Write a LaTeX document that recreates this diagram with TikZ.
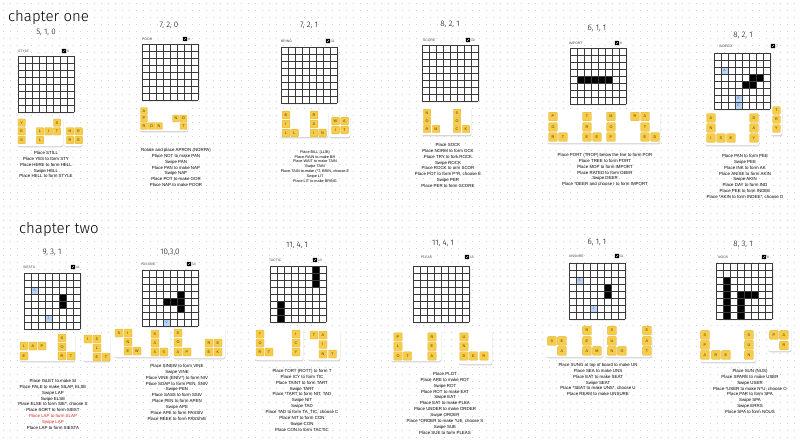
\documentclass[tikz,border=0pt]{standalone}
\usepackage{fontspec}
\setmainfont{Liberation Sans}
\newfontfamily\titlefont{Fira Sans Light}
\definecolor{tilec}{HTML}{F6CC4A}
\definecolor{tileb}{HTML}{E2B432}
\definecolor{tiletx}{HTML}{4A3A00}
\definecolor{dotc}{HTML}{D2D2D2}
\definecolor{gridc}{HTML}{3A3A3A}
\definecolor{shadowc}{HTML}{D6D6D6}
\definecolor{bluec}{HTML}{B9D4F3}
\definecolor{bluetx}{HTML}{3A64A8}
\definecolor{redtx}{HTML}{E0301E}
\definecolor{labc}{HTML}{444444}
\newcounter{nc}
\def\tsz{7.5pt}
\tikzset{
  tile/.style={fill=tilec, draw=tileb, line width=0.3pt, rounded corners=0.8pt, minimum size=\tsz, inner sep=0pt, text=tiletx, font=\fontsize{3.8}{4}\selectfont},
  bluetxt/.style={inner sep=0pt, text=bluetx, font=\fontsize{3.5}{4}\selectfont},
  instr/.style={inner sep=0pt, align=center, anchor=north, text=black, font=\fontsize{4.4}{5.9}\selectfont},
  numtitle/.style={inner sep=0pt, font=\titlefont\fontsize{8}{9}\selectfont},
  chaptitle/.style={inner sep=0pt, anchor=west, font=\titlefont\fontsize{15}{16}\selectfont},
  labtxt/.style={inner sep=0pt, anchor=west, text=labc, font=\fontsize{3.4}{4}\selectfont},
  gline/.style={draw=gridc, line width=0.45pt},
}
\newcommand\T[3]{\stepcounter{nc}\node[tile] (t\arabic{nc}) at (#1,#2) {#3};}
\newcommand\card[4]{\fill[shadowc, rounded corners=2pt] (#1+0.4,#2+1.3) rectangle (#3+0.4,#4+1.3);
  \fill[white, rounded corners=2pt] (#1,#2) rectangle (#3,#4);}
\newcommand\bd[3]{\begin{scope}[shift={(#1,#2)}]
  \fill[shadowc, rounded corners=1.5pt] (1.3,1.3) rectangle (57.3,57.3);
  \fill[white] (0,0) rectangle (56,56);
  #3
  \foreach \k in {0,...,8}{\draw[gline] (\k*7,0) -- (\k*7,56); \draw[gline] (0,\k*7) -- (56,\k*7);}
  \end{scope}}
\newcommand\bk[2]{\fill[black] (#1*7,#2*7) rectangle ++(7,7);}
\newcommand\bl[3]{\fill[bluec] (#1*7,#2*7) rectangle ++(7,7);\stepcounter{nc}\node[bluetxt] (b\arabic{nc}) at (#1*7+3.5,#2*7+3.5) {#3};}
\newcommand\lab[5]{\stepcounter{nc}\node[labtxt] (l\arabic{nc}) at (#1,#2) {#3};
  \fill[black, rounded corners=0.5pt] (#4-2.2,#2-2.2) rectangle (#4+2.2,#2+2.2);
  \draw[white, line width=0.35pt] (#4-0.9,#2+0.9) -- (#4+0.9,#2-0.9);
  \stepcounter{nc}\node[labtxt] (l\arabic{nc}) at (#4+2.8,#2) {#5};}
\newcommand\num[3]{\stepcounter{nc}\node[numtitle] (h\arabic{nc}) at (#1,#2) {#3};}
\begin{document}
\begin{tikzpicture}[x=1pt,y=-1pt]
\useasboundingbox (0,0) rectangle (800,441);
\fill[white] (0,0) rectangle (800,441);
\foreach \j in {0,...,62}{\draw[dotc, line width=0.9pt, dash pattern=on 0.9pt off 6.1pt] (2.5,3+7*\j) -- (800,3+7*\j);}

\node[chaptitle] (c1) at (8,17) {chapter one};
\node[chaptitle] (c2) at (19,229) {chapter two};

% ---------- panel 1
\num{46}{32}{5, 1, 0}
\lab{18}{51}{STYLE}{64}{8}
\bd{18}{56}{}
\card{17}{118}{63}{146}
\card{64}{127}{82}{146}
\def\tsz{7.5pt}
\T{21.7}{122.7}{Y}\T{21.7}{131.3}{E}\T{21.7}{140}{S}
\T{40}{131.3}{L}\T{48.6}{131.3}{I}\T{40}{140}{L}\T{57}{122.7}{S}\T{57}{131.3}{T}
\T{70}{131.3}{H}\T{78.6}{131.3}{E}\T{70}{140}{R}\T{78.6}{140}{E}
\stepcounter{nc}\node[instr] (x\arabic{nc}) at (46,151) {Place STILL\\Place YES to form STY\\Place HERE to form HELL\\Swipe HELL\\Place HELL to form STYLE};

% ---------- panel 2
\num{169}{25}{7, 2, 0}
\lab{142}{39}{POOR}{185}{9}
\bd{142}{44}{}
\card{139}{107}{188}{131}
\def\tsz{6.9pt}
\T{144}{111}{A}\T{144}{118.5}{P}\T{144}{126}{R}\T{151.5}{126}{O}\T{159}{126}{N}
\T{176}{118.5}{N}\T{183.5}{118.5}{O}\T{183.5}{126}{T}
\stepcounter{nc}\node[instr] (x\arabic{nc}) at (176,148) {Rotate and place APRON (NORPA)\\Place NOT to make PAN\\Swipe PAN\\Place PAN to make NAP\\Swipe NAP\\Place POT to make OOR\\Place NAP to make POOR};

% ---------- panel 3
\num{309}{25}{7, 2, 1}
\lab{281}{41}{BRING}{328}{11}
\bd{281}{47}{}
\card{280}{111}{328}{137}
\card{329}{116}{350}{137}
\def\tsz{7.7pt}
\T{286}{115}{B}\T{286}{124}{I}\T{286}{133}{L}\T{294.5}{133}{L}
\T{314}{115}{R}\T{314}{124}{A}\T{314}{133}{I}\T{322.5}{133}{N}
\T{335.5}{121}{W}\T{344.5}{121}{A}\T{335.5}{130}{I}\T{344.5}{130}{T}
\stepcounter{nc}\node[instr, font=\fontsize{3.8}{4.8}\selectfont] (x\arabic{nc}) at (315,150.3) {Place BILL (LLIB)\\Place RAIN to make BR\\Place WAIT to make TAIN\\Swipe TAIN\\Place TAIN to make (*T, BRIN, choose E\\Swipe LIT\\Place LIT to make BRING};

% ---------- panel 4
\num{450}{24}{8, 2, 1}
\lab{423}{40}{SCORE}{468}{10}
\bd{422}{45}{}
\card{422}{107}{471}{135}
\def\tsz{7.5pt}
\T{427}{113}{N}\T{427}{121}{O}\T{427}{129}{R}\T{436}{129}{M}
\T{457}{113}{S}\T{457}{121}{O}\T{457}{129}{C}\T{466}{129}{K}
\stepcounter{nc}\node[instr] (x\arabic{nc}) at (448,143) {Place SOCK\\Place NORM to form OCK\\Place TRY to fork ROCK\\Swipe ROCK\\Place ROCK to orm SCOR\\Place POT to form P*R, choose E\\Swipe PER\\Place PER to form SCORE};

% ---------- panel 5
\num{597}{28}{6, 1, 1}
\lab{569}{43}{IMPORT}{617}{6}
\bd{570}{48}{\bk{1}{4}\bk{2}{4}\bk{3}{4}\bk{4}{4}\bk{5}{4}}
\card{547}{111}{660}{143}
\def\tsz{8.6pt}
\T{553}{116.5}{P}\T{553}{127}{O}\T{553}{137}{R}\T{563}{137}{T}
\T{587}{116.5}{T}\T{587}{127}{R}\T{587}{137}{E}\T{597}{137}{E}
\T{611}{116.5}{M}\T{611}{127}{O}\T{611}{137}{P}
\T{635}{116.5}{R}\T{645}{116.5}{A}\T{645}{127}{T}\T{645}{137}{E}\T{655}{137}{D}
\stepcounter{nc}\node[instr] (x\arabic{nc}) at (605,153) {Place PORT (TROP) below the line to form POR\\Place TREE to form PORT\\Place MOP to form IMPORT\\Place RATED to form DEER\\Swipe DEER\\Place *DEER and choose I to form IMPORT};

% ---------- panel 6
\num{743}{35}{8, 2, 1}
\lab{719}{46}{INDEED}{773}{7}
\bd{714}{53}{\bl{1}{2}{A}\bl{3}{6}{E}\bl{3}{7}{E}\bk{5}{3}\bk{6}{3}\bk{4}{4}\bk{5}{4}}
\card{705}{113}{759}{145}
\card{771}{106}{782}{135}
\def\tsz{8.6pt}
\T{711}{118}{A}\T{711}{128}{N}\T{711}{138}{I}\T{721}{138}{S}\T{731}{138}{E}
\T{754}{118}{D}\T{754}{128}{A}\T{754}{138}{Y}
\def\tsz{7.6pt}
\T{776.5}{110.5}{T}\T{776.5}{119.5}{R}\T{776.5}{128.5}{Y}
\stepcounter{nc}\node[instr] (x\arabic{nc}) at (745,154) {Place PAN to form PEE\\Swipe PEE\\Place INK to form AK\\Place ANISE to form AKIN\\Swipe AKIN\\Place DAY to form IND\\Place PEE to form INDEE\\Place *AKIN to form INDEE*, choose D};

% ---------- panel 7
\num{52}{252}{9, 3, 1}
\lab{23}{267}{SIESTA}{73}{11}
\bd{24}{273}{\bl{1}{2}{S}\bl{3}{6}{J}\bk{5}{3}\bk{5}{4}}
\card{19}{333}{75}{361}
\card{83}{335}{110}{361}
\card{114}{328}{170}{357}
\def\tsz{8pt}
\T{24}{346}{L}\T{33}{346}{A}\T{42}{346}{P}\T{24}{356}{E}
\T{62}{338}{S}\T{62}{347}{O}\T{62}{356}{R}\T{71}{356}{T}
\T{88}{339}{I}\T{97}{339}{S}\T{97}{348}{L}\T{97}{357}{E}\T{106}{357}{T}
\T{119}{333}{S}\T{128}{333}{I}\T{128}{342}{N}\T{128}{351}{E}\T{137}{351}{W}
\T{155}{334}{S}\T{155}{343}{A}\T{155}{352}{S}\T{164}{352}{S}
\stepcounter{nc}\node[instr] (x\arabic{nc}) at (53,379) {Place ISLET to make SI\\Place PALE to make SILAP, ELSE\\Swipe LAP\\Swipe ELSE\\Place ELSE to form SIE*, choose S\\Place SORT to form SIEST\\\textcolor{redtx}{Place LAP to form SLAP}\\\textcolor{redtx}{Swipe LAP}\\Place LAP to form SIESTA};

% ---------- panel 8
\num{170}{252}{10,3,0}
\lab{141}{264}{PASSIVE}{189}{14}
\bd{142}{270}{\bk{3}{4}\bk{4}{4}\bk{5}{4}\bk{5}{3}\bk{5}{5}\bl{3}{7}{V}}
\card{173}{328}{225}{358}
\T{178}{333}{S}\T{178}{342.5}{O}\T{178}{352}{A}\T{187}{352}{P}
\T{209}{343}{R}\T{218}{343}{E}\T{209}{352}{E}\T{218}{352}{K}
\stepcounter{nc}\node[instr] (x\arabic{nc}) at (177,364) {Place SINEW to form VINE\\Swipe VINE\\Place VINE (ENIV*) to form NIV\\Place SOAP to form PEN, SNIV\\Swipe PEN\\Place SASS to form SSIV\\Place PEN to form APEN\\Swipe APE\\Place APE to form PASSIV\\Place REEK to form PASSIVE};

% ---------- panel 9
\num{297}{245}{11, 4, 1}
\lab{269}{260}{TACTIC}{315}{13}
\bd{270}{266}{\bk{6}{0}\bk{6}{1}\bk{6}{2}\bk{1}{5}\bk{1}{6}\bk{1}{7}}
\card{255}{328}{303}{360}
\card{308}{329}{340}{360}
\T{260}{334}{T}\T{260}{343}{O}\T{260}{352}{R}\T{269}{352}{T}
\T{296}{334}{I}\T{296}{343}{C}\T{296}{352}{Y}
\T{314}{335}{T}\T{323}{335}{A}\T{323}{344.5}{I}\T{323}{354}{N}\T{332.5}{354}{T}
\stepcounter{nc}\node[instr] (x\arabic{nc}) at (302,369) {Place TORT (ROTT) to form T\\Place ICY to form TIC\\Place TAINT to form TART\\Swipe TART\\Place *TART to form NIT, TAD\\Swipe NIT\\Swipe TAD\\Place TAD to form TA\_TIC, choose C\\Place NIT to form CON\\Swipe CON\\Place CON to form TACTIC};

% ---------- panel 10
\num{443}{243}{11, 4, 1}
\lab{421}{257}{PLEAS}{467}{14}
\bd{413}{266}{}
\card{391}{329}{441}{361}
\card{458}{330}{492}{364}
\def\tsz{8.4pt}
\T{398}{337}{P}\T{398}{346.5}{L}\T{398}{356}{O}\T{407.5}{356}{T}
\T{432}{337}{R}\T{432}{346.5}{E}\T{432}{356}{A}
\T{464}{337}{U}\T{464}{346.5}{N}\T{464}{356}{D}\T{473.5}{356}{E}\T{484}{356}{R}
\stepcounter{nc}\node[instr] (x\arabic{nc}) at (445,372) {Place PLOT\\Place ARE to make ROT\\Swipe ROT\\Place ROT to make EAT\\Swipe EAT\\Place EAT to make PLEA\\Place UNDER to make ORDER\\Swipe ORDER\\Place *ORDER to make *UE, choose S\\Swipe SUE\\Place SUE to form PLEAS};

% ---------- panel 11
\num{597}{242}{6, 1, 1}
\lab{569}{256}{UNSURE}{617}{11}
\bd{569}{263}{\bl{1}{2}{S}\bl{3}{6}{J}\bk{5}{3}\bk{5}{4}}
\card{546}{326}{603}{357}
\card{605}{326}{652}{357}
\def\tsz{8.8pt}
\T{552}{341}{S}\T{562}{341}{E}\T{562}{351}{A}
\T{587}{330.5}{R}\T{587}{341}{E}\T{587}{351}{A}\T{597}{351}{M}
\T{612}{330.5}{S}\T{612}{341}{U}\T{612}{351}{N}\T{622}{351}{G}
\T{647}{330.5}{E}\T{647}{341}{A}\T{647}{351}{T}
\stepcounter{nc}\node[instr] (x\arabic{nc}) at (598,363) {Place SUNG at top of board to make UN\\Place SEA to make UNS\\Place EAT to make SEAT\\Swipe SEAT\\Place *SEAT to make UNS*, choose U\\Place REAM to make UNSURE};

% ---------- panel 12
\num{743}{244}{8, 3, 1}
\lab{718}{257}{NOUS}{764}{8}
\bd{716}{263}{\bk{1}{2}\bk{1}{3}\bk{1}{4}\bk{1}{5}\bk{1}{6}\bk{1}{7}\bk{3}{4}\bk{3}{5}\bk{3}{6}\bk{3}{7}\bk{4}{4}\bk{5}{4}}
\card{700}{330}{756}{362}
\card{768}{330}{791}{351}
\T{705}{335}{S}\T{705}{345}{P}\T{705}{355}{A}\T{716}{355}{R}\T{726}{355}{E}
\T{749}{335}{S}\T{749}{345}{U}\T{749}{355}{N}
\T{774}{335}{P}\T{784}{335}{A}\T{784}{345.5}{R}
\stepcounter{nc}\node[instr] (x\arabic{nc}) at (750,369) {Place SUN (NUS)\\Place SPARE to make USER\\Swipe USER\\Place *USER to make N*U, choose O\\Place PAR to form SPA\\Swipe SPA\\Swipe ERRS\\Place SPA to form NOUS};
\end{tikzpicture}
\end{document}
